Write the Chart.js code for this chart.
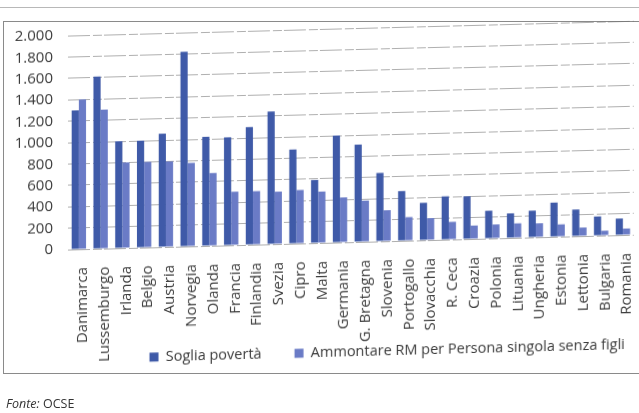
<!DOCTYPE html>
<html lang="it">
<head>
<meta charset="utf-8">
<title>Soglia di povertà e reddito minimo</title>
<script src="https://cdn.jsdelivr.net/npm/chart.js@4/dist/chart.umd.min.js"></script>
<style>
  html, body { margin: 0; padding: 0; background: #fff; }
  #page { position: relative; width: 639px; height: 413px; overflow: hidden; background: #fff; }
  #rule { position: absolute; left: 0; top: 7px; width: 639px; height: 0; border-top: 1px solid #b8b8b8; }
  #frame { position: absolute; left: 3px; top: 21px; width: 636px; height: 351px;
           border-top: 1px solid #8a8a8a; border-left: 1px solid #8a8a8a; border-bottom: 1px solid #8a8a8a; }
  #chart { position: absolute; left: 0; top: 0; transform: skewY(-1.5deg); transform-origin: 50% 50%; }
  #source { position: absolute; left: 6px; top: 395px; font: 12.5px "Open Sans", sans-serif; color: #333; }
  #source i { font-style: italic; }
</style>
</head>
<body>
<div id="page">
  <div id="rule"></div>
  <div id="frame"></div>
  <canvas id="chart" width="639" height="413"></canvas>
  <div id="source"><i>Fonte:</i> OCSE</div>
</div>
<script>
// Paesi, nell'ordine del grafico
const categories = ['Danimarca', 'Lussemburgo', 'Irlanda', 'Belgio', 'Austria', 'Norvegia', 'Olanda',
  'Francia', 'Finlandia', 'Svezia', 'Cipro', 'Malta', 'Germania', 'G. Bretagna', 'Slovenia',
  'Portogallo', 'Slovacchia', 'R. Ceca', 'Croazia', 'Polonia', 'Lituania', 'Ungheria', 'Estonia',
  'Lettonia', 'Bulgaria', 'Romania'];

// Soglia di povertà (euro al mese)
const sogliaPoverta = [1300, 1610, 1000, 1000, 1060, 1820, 1020, 1010, 1100, 1240, 880, 590,
  1000, 910, 640, 465, 350, 405, 400, 260, 230, 250, 320, 250, 180, 155];

// Ammontare del reddito minimo per persona singola senza figli
const ammontareRM = [1400, 1300, 800, 800, 800, 780, 680, 500, 500, 490, 500, 480,
  420, 385, 290, 220, 205, 165, 125, 130, 135, 130, 115, 80, 45, 60];

const seriesNames = ['Soglia povertà', 'Ammontare RM per Persona singola senza figli'];
const yTickLabels = ['0', '200', '400', '600', '800', '1.000', '1.200', '1.400', '1.600', '1.800', '2.000'];

const FONT = '"Open Sans", sans-serif';
const TEXT = '#3a3a3a';

// The long country names hang below the axis box and the legend sits
// beside them, so both boxes are nudged after the layout pass.
const placeBoxes = {
  id: 'placeBoxes',
  afterLayout(chart) {
    const x = chart.scales.x;
    x.bottom = x.top + 125;
    const lg = chart.legend;
    const h = lg.height, w = lg.width;
    lg.top = 312.5; lg.bottom = lg.top + h;
    lg.right = 658; lg.left = lg.right - w;
  }
};

new Chart(document.getElementById('chart'), {
  type: 'bar',
  data: {
    labels: categories,
    datasets: [
      { label: seriesNames[0], data: sogliaPoverta, backgroundColor: '#3f5aa8',
        categoryPercentage: 0.66, barPercentage: 1.0 },
      { label: seriesNames[1], data: ammontareRM, backgroundColor: '#6a7bc6',
        categoryPercentage: 0.66, barPercentage: 1.0 }
    ]
  },
  plugins: [placeBoxes],
  options: {
    responsive: false,
    devicePixelRatio: 1,
    animation: false,
    layout: { padding: { top: 29, left: 8, right: 5, bottom: 22.5 } },
    plugins: {
      tooltip: { enabled: false },
      legend: {
        position: 'bottom',
        align: 'end',
        labels: {
          font: { family: FONT, size: 14.5 },
          color: TEXT,
          boxWidth: 9,
          boxHeight: 9,
          padding: 33
        }
      }
    },
    scales: {
      x: {
        grid: { display: false },
        border: { display: false },
        ticks: {
          autoSkip: false,
          minRotation: 90,
          maxRotation: 90,
          padding: 10,
          labelOffset: 4,
          font: { family: FONT, size: 15 },
          color: TEXT
        },
        afterFit: (s) => { s.height = 90; s.paddingLeft = 0; s.paddingRight = 0; }
      },
      y: {
        min: 0,
        max: 2000,
        border: { display: false, dash: [22, 3, 9, 2] },
        grid: { color: 'rgba(110,110,110,0.55)', lineWidth: 1, drawTicks: false },
        ticks: {
          autoSkip: false,
          stepSize: 200,
          padding: 15,
          font: { family: FONT, size: 15 },
          color: TEXT,
          callback: (v) => yTickLabels[Math.round(v / 200)]
        },
        afterFit: (s) => { s.width = 60; }
      }
    }
  }
});
</script>
</body>
</html>
